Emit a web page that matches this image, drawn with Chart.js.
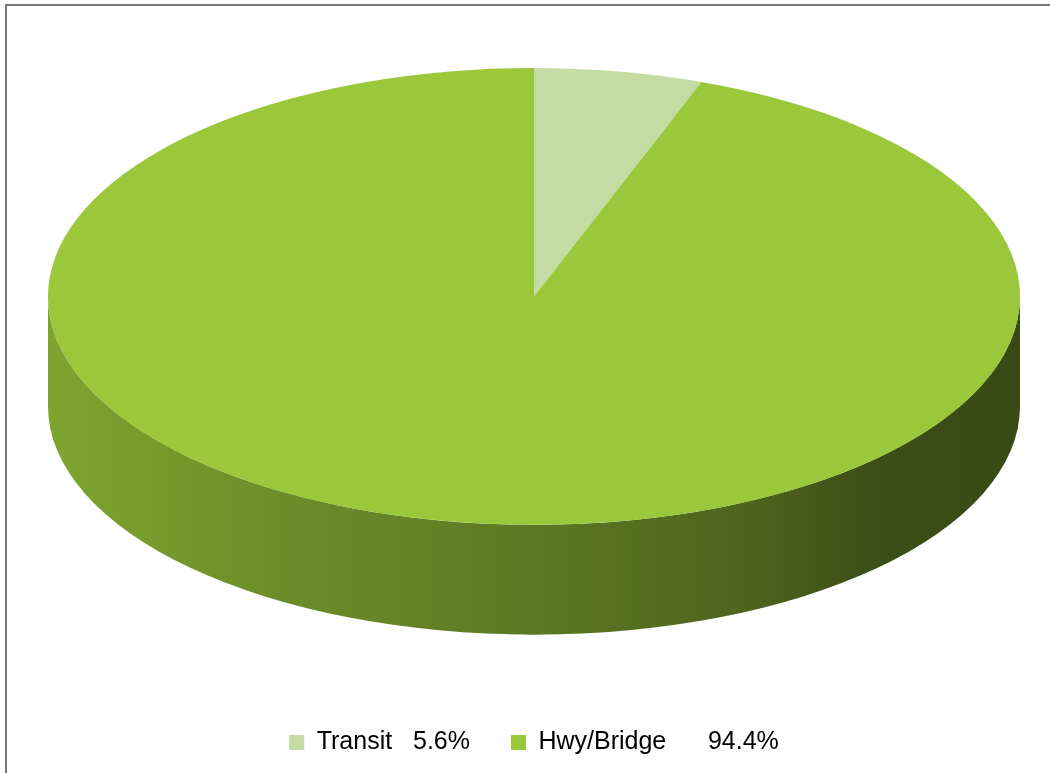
<!DOCTYPE html>
<html>
<head>
<meta charset="utf-8">
<title>Transit vs Hwy/Bridge</title>
<script src="https://cdn.jsdelivr.net/npm/chart.js@4.4.1/dist/chart.umd.min.js"></script>
<style>
    html, body { margin: 0; padding: 0; background: #fff; overflow: hidden; }
    #frame { position: absolute; left: 5px; top: 4px; width: 1100px; height: 820px;
             border-left: 2px solid #777; border-top: 2px solid #777; }
    #wrap { position: absolute; left: 0; top: 0; width: 1050px; height: 773px; }
</style>
</head>
<body>
<div id="frame"></div>
<div id="wrap"><canvas id="pieChart"></canvas></div>
<script>
// Data
const categories = ['Transit', 'Hwy/Bridge'];
const shares = [5.6, 94.4];
const legendGaps = ['   ', '      '];
const sliceColors = ['#c4dba3', '#9ac83a'];

// 3D look: ellipse height vs width, and the side depth vs width
const TILT = 0.47;
const DEPTH = 0.226;
const SIDE_SHADES = [[0, 0.82], [0.25, 0.7], [0.5, 0.6], [0.72, 0.5], [0.85, 0.39], [1, 0.37]];

function shade(hex, f) {
    const n = parseInt(hex.slice(1), 16);
    const r = Math.round(((n >> 16) & 255) * f);
    const g = Math.round(((n >> 8) & 255) * f);
    const b = Math.round((n & 255) * f);
    return `rgb(${r},${g},${b})`;
}

const pie3d = {
    id: 'pie3d',
    beforeDatasetsDraw(chart) {
        const { ctx, chartArea: a } = chart;
        const meta = chart.getDatasetMeta(0);
        const rx = (a.right - a.left) / 2;
        const ry = rx * TILT;
        const cx = (a.left + a.right) / 2;
        const cy = a.top + ry;
        const depth = rx * DEPTH;

        // visible front wall of each slice (canvas angles 0..PI)
        meta.data.forEach((arc, i) => {
            const grad = ctx.createLinearGradient(cx - rx, 0, cx + rx, 0);
            SIDE_SHADES.forEach(([p, f]) => grad.addColorStop(p, shade(sliceColors[i], f)));
            for (let k = -1; k <= 1; k++) {
                const lo = Math.max(arc.startAngle, 2 * Math.PI * k);
                const hi = Math.min(arc.endAngle, Math.PI + 2 * Math.PI * k);
                if (hi <= lo) continue;
                ctx.beginPath();
                ctx.ellipse(cx, cy, rx, ry, 0, lo, hi);
                ctx.ellipse(cx, cy + depth, rx, ry, 0, hi, lo, true);
                ctx.closePath();
                ctx.fillStyle = grad;
                ctx.fill();
            }
        });

        // squash the pie top into the ellipse
        const first = meta.data[0];
        const r = first.outerRadius;
        ctx.save();
        ctx.translate(cx, cy);
        ctx.scale(rx / r, ry / r);
        ctx.translate(-first.x, -first.y);
    },
    afterDatasetsDraw(chart) {
        chart.ctx.restore();
    }
};

new Chart(document.getElementById('pieChart').getContext('2d'), {
    type: 'pie',
    data: {
        labels: categories,
        datasets: [{
            data: shares,
            backgroundColor: sliceColors,
            borderWidth: 0
        }]
    },
    options: {
        responsive: true,
        maintainAspectRatio: false,
        animation: false,
        layout: { padding: { left: 48, right: 30, top: 68, bottom: 8 } },
        plugins: {
            tooltip: { enabled: false },
            legend: {
                position: 'bottom',
                labels: {
                    font: { family: "'Liberation Sans', Arial, sans-serif", size: 25 },
                    color: '#000',
                    boxWidth: 15,
                    boxHeight: 15,
                    padding: 41,
                    generateLabels: () => categories.map((c, i) => ({
                        text: c + legendGaps[i] + shares[i].toFixed(1) + '%',
                        fillStyle: sliceColors[i],
                        strokeStyle: sliceColors[i],
                        lineWidth: 0,
                        hidden: false,
                        index: i
                    }))
                }
            }
        }
    },
    plugins: [pie3d]
});
</script>
</body>
</html>
